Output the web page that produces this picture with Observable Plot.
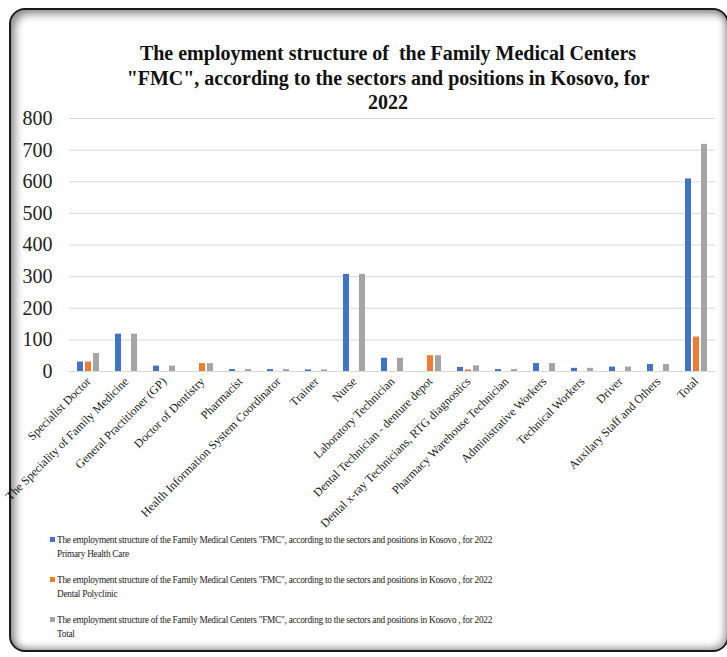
<!DOCTYPE html>
<html><head><meta charset="utf-8">
<script src="https://cdn.jsdelivr.net/npm/d3@7"></script>
<script src="https://cdn.jsdelivr.net/npm/@observablehq/plot@0.6"></script>
<style>
body{margin:0;background:#fff;width:727px;height:657px;overflow:hidden;position:relative;font-family:"Liberation Serif","Times New Roman",serif;}
#frame{position:absolute;left:9px;top:8px;width:716px;height:640px;border:2px solid #1a1a1a;border-radius:16px;box-shadow:inset 4px 4px 8px rgba(0,0,0,0.45), inset -3px -3px 7px rgba(0,0,0,0.3);pointer-events:none;z-index:2;}
#title{position:absolute;left:88px;width:600px;top:41px;text-align:center;font-weight:bold;font-size:20px;line-height:24.5px;color:#111;}
#chart{position:absolute;left:0;top:108px;}
#legend{position:absolute;left:50px;top:533px;font-size:10.5px;line-height:14px;color:#222;}
.item{position:relative;padding-left:7px;height:40px;}
.txt{display:inline-block;letter-spacing:-0.3px;transform:scaleX(0.885);transform-origin:0 0;white-space:nowrap;}
.sw{position:absolute;left:0;top:4px;width:5px;height:5px;}
</style></head>
<body>
<div id="title"></div>
<div id="chart"></div>
<div id="legend"></div>
<div id="frame"></div>
<script>
const titleLines = ["The employment structure of\u00a0 the Family Medical Centers", "\"FMC\", according to the sectors and positions in Kosovo, for", "2022"];
const categories = ["Specialist Doctor", "The Speciality of Family Medicine", "General Practitioner (GP)", "Doctor of Dentistry", "Pharmacist", "Health Information System Coordinator", "Trainer", "Nurse", "Laboratory Technician", "Dental Technician - denture depot", "Dental x-ray Technicians, RTG diagnostics", "Pharmacy Warehouse Technician", "Administrative Workers", "Technical Workers", "Driver", "Auxilary Staff and Others", "Total"];
const primaryHealthCare = [30, 118, 17, 0, 6, 6, 5, 307, 42, 0, 13, 6, 25, 10, 14, 22, 609];
const dentalPolyclinic = [30, 0, 0, 25, 0, 0, 0, 0, 0, 50, 5, 0, 0, 0, 0, 0, 109];
const totalValues = [57, 118, 17, 25, 6, 6, 5, 307, 42, 50, 18, 6, 25, 10, 14, 22, 718];
const seriesNames = ["Primary Health Care", "Dental Polyclinic", "Total"];
const seriesColors = ["#4472C4", "#ED7D31", "#A5A5A5"];
const legendPrefix = "The employment structure of the Family Medical Centers \"FMC\", according to the sectors and positions in Kosovo , for 2022";
const yTicks = [0, 100, 200, 300, 400, 500, 600, 700, 800];

document.getElementById("title").innerHTML = titleLines.join("<br>");

const seriesValues = [primaryHealthCare, dentalPolyclinic, totalValues];
const data = [];
categories.forEach((c, i) => seriesValues.forEach((vals, s) => data.push({category: c, series: seriesNames[s], value: vals[i]})));

const FONT = "'Liberation Serif','Times New Roman',serif";
const chart = Plot.plot({
  width: 727,
  height: 422,
  marginLeft: 69,
  marginRight: 12,
  marginTop: 10,
  marginBottom: 159,
  style: {fontFamily: FONT, color: "#222", overflow: "visible"},
  fx: {domain: categories, padding: 0, label: null, axis: null},
  x: {domain: seriesNames, paddingInner: 0.28, paddingOuter: 0.95, axis: null},
  y: {domain: [0, 800], axis: null},
  color: {domain: seriesNames, range: seriesColors},
  marks: [
    Plot.ruleY(yTicks, {stroke: "#d9d9d9", strokeWidth: 1}),
    Plot.barY(data, {fx: "category", x: "series", y: "value", fill: "series"}),
    Plot.axisY({ticks: yTicks, tickSize: 0, tickPadding: 17, fontSize: 20, label: null}),
    Plot.axisFx({anchor: "bottom", tickSize: 0, tickPadding: 8, tickRotate: -45, fontSize: 12, label: null})
  ]
});
document.getElementById("chart").appendChild(chart);

const legend = document.getElementById("legend");
seriesNames.forEach((n, i) => {
  const d = document.createElement("div");
  d.className = "item";
  d.innerHTML = `<span class="sw" style="background:${seriesColors[i]}"></span><span class="txt">${legendPrefix}<br>${n}</span>`;
  legend.appendChild(d);
});
</script>
</body></html>
